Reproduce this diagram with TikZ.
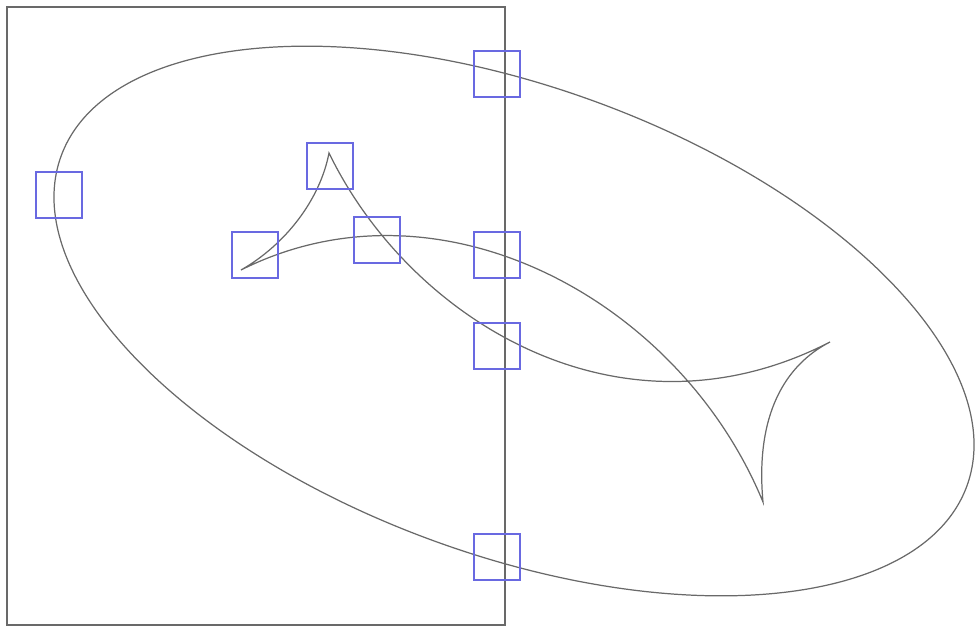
\documentclass[tikz,border=0pt]{standalone}
\usepackage{tikz}
\usetikzlibrary{positioning,calc}
\definecolor{ink}{RGB}{105,105,105}
\definecolor{hit}{RGB}{105,105,225}

\begin{document}
\begin{tikzpicture}[x=0.2mm,y=-0.2mm,
 ln/.style={draw=ink,line width=0.7pt},
 hitbox/.style={draw=hit,line width=0.6pt,minimum size=9.2mm,inner sep=0pt}]
 \useasboundingbox (0,0) rectangle (975,627);
 \draw[ln,line width=0.9pt] (7,7) rectangle (505,625);
 \coordinate (ec) at (514,321);
 \draw[ln,rotate around={-20:(ec)}] (ec) ellipse [x radius=482,y radius=234];
 % cusps of the curve
 \coordinate (A) at (241,270);
 \coordinate (B) at (329,153);
 \coordinate (D) at (830,342);
 \coordinate (C) at (763,502);
 \draw[ln] (A) .. controls (285,245) and (320,200) .. (B)
  .. controls (410,320) and (620,450) .. (D)
  .. controls (785,365) and (755,415) .. (C)
  .. controls (680,300) and (440,170) .. cycle;
 % marked points
 \node[hitbox](h1) at (497,74){};
 \node[hitbox](h2) at (59,195){};
 \node[hitbox](h3) at (330,166){};
 \node[hitbox](h4) at (255,255){};
 \node[hitbox](h5) at (377,240){};
 \node[hitbox](h6) at (497,255){};
 \node[hitbox](h7) at (497,346){};
 \node[hitbox](h8) at (497,557){};
\end{tikzpicture}
\end{document}
